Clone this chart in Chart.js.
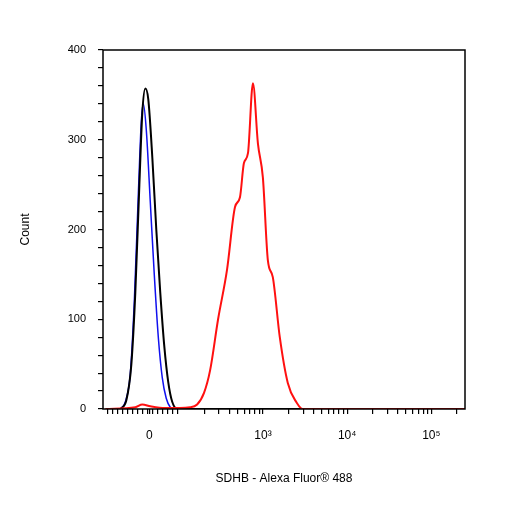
<!DOCTYPE html>
<html><head><meta charset="utf-8">
<script src="https://cdn.jsdelivr.net/npm/chart.js@4/dist/chart.umd.min.js"></script>
<style>html,body{margin:0;padding:0;background:#fff}#w{width:506px;height:506px}</style>
</head><body><div id="w"><canvas id="c"></canvas></div>
<script>
// x in display units: 0 label at 1.65, 10^3 at 3, 10^4 at 4, 10^5 at 5
const xTickPos = [1.65, 3, 4, 5];
const xTickLabels = ['0', '10³', '10⁴', '10⁵'];
const blueX = [1.307,1.366,1.425,1.472,1.520,1.555,1.579,1.615,1.662,1.709,1.757,1.804,1.851,1.899,1.946,5.4];
const blueY = [0,8,40,120,240,320,340,310,230,150,80,35,12,2,0,0];
const blackX = [1.307,1.378,1.437,1.484,1.532,1.567,1.603,1.638,1.686,1.733,1.780,1.828,1.875,1.922,1.981,5.4];
const blackY = [0,10,50,130,250,330,357,345,280,200,130,70,30,8,0,0];
const redX = [1.129,1.484,1.567,1.662,1.839,2.135,2.218,2.300,2.372,2.467,2.573,2.668,2.727,2.774,2.822,2.881,2.940,2.999,3.058,3.117,3.200,3.295,3.401,3.472,5.4];
const redY = [0,2,5,3,1,2,5,18,43,100,155,225,236,274,285,363,296,258,166,147,80,29,7,0,0];
const yTicks = [0,100,200,300,400];

const pts = (xs, ys) => xs.map((x, i) => ({x, y: ys[i]}));
const minorX = [];
for (let k = 1.15; k < 2.0; k += 0.06) minorX.push(+k.toFixed(3));
for (let k = 2; k <= 9; k++) { const v = 2 + Math.log10(k); if (v > 2.15) minorX.push(v); }
for (const d of [3, 4, 5]) for (let k = 2; k <= 9; k++) { const v = d + Math.log10(k); if (v < 5.38) minorX.push(v); }

const boxPlugin = {id:'box', afterDraw(ch){const a=ch.chartArea,c=ch.ctx;c.save();c.strokeStyle='#000';c.lineWidth=1.5;c.strokeRect(a.left,a.top,a.right-a.left,a.bottom-a.top);c.restore();}};
const ds = (label, d, col, w, t) => ({label, data: d, borderColor: col, borderWidth: w, pointRadius: 0, tension: t, cubicInterpolationMode: 'monotone', fill: false});

new Chart(document.getElementById('c'), {
  type: 'line',
  data: {datasets: [ds('red', pts(redX, redY), '#ff1010', 2, 0.3), ds('black', pts(blackX, blackY), '#000', 2, 0.4), ds('blue', pts(blueX, blueY), '#1010ee', 1.5, 0.4)]},
  options: {
    responsive: true, maintainAspectRatio: false, animation: false,
    layout: {padding: {top: 50, right: 41, left: 14, bottom: 16}},
    plugins: {legend: {display: false}, tooltip: {enabled: false}},
    scales: {
      x: {type: 'linear', min: 1.1, max: 5.4,
        afterBuildTicks(s){ s.ticks = xTickPos.map(v=>({value:v, major:true})).concat(minorX.map(v=>({value:v}))); },
        afterFit(s){ s.height = 81; },
        grid: {drawOnChartArea: false, drawTicks: true, tickLength: 5, color: '#000', lineWidth: 1.2},
        border: {display: false},
        ticks: {autoSkip: false, maxRotation: 0, padding: 14, color: '#000', font: {family: 'Liberation Sans', size: 12},
          callback(v){ const i = xTickPos.indexOf(v); return i >= 0 ? xTickLabels[i] : ''; }},
        title: {display: true, text: 'SDHB - Alexa Fluor® 488', color: '#000', font: {family: 'Liberation Sans', size: 12}, padding: {top: 22}}
      },
      y: {min: 0, max: 400,
        afterBuildTicks(s){ const t=[]; for(let v=0; v<=400; v+=20) t.push({value:v}); s.ticks=t; },
        afterFit(s){ s.width = 89; },
        grid: {drawOnChartArea: false, tickLength: 5, color: '#000', lineWidth: 1.2},
        border: {display: false},
        ticks: {autoSkip: false, padding: 12, color: '#000', font: {family: 'Liberation Sans', size: 11},
          callback(v){ return yTicks.includes(v) ? String(v) : ''; }},
        title: {display: true, text: 'Count', color: '#000', font: {family: 'Liberation Sans', size: 12}, padding: {bottom: 40}}
      }
    }
  },
  plugins: [boxPlugin]
});
</script></body></html>
